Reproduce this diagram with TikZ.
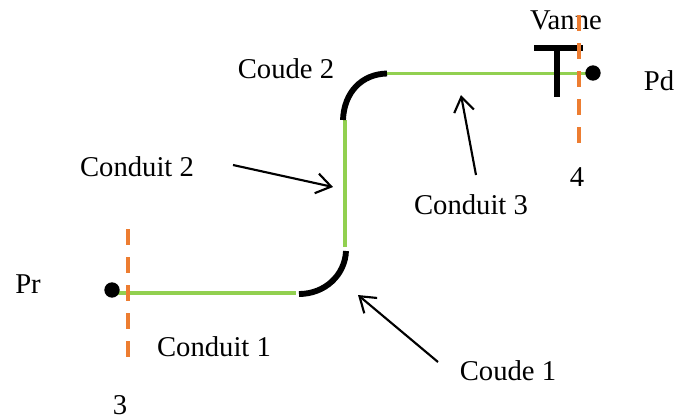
\documentclass[tikz,border=0pt]{standalone}
\usepackage{fontspec}
\setmainfont{Liberation Serif}
\usetikzlibrary{arrows.meta}
\tikzset{
  lab/.style={font=\fontsize{21.5}{24}\selectfont,inner sep=0pt},
  conduit/.style={draw={rgb,255:red,146;green,208;blue,80},line width=2.9pt},
  coude/.style={draw=black,line width=4.4pt},
  coupe/.style={draw={rgb,255:red,237;green,125;blue,49},line width=3pt,dash pattern=on 12pt off 9pt},
  fleche/.style={draw=black,line width=1.6pt,-{Straight Barb[length=11pt,width=15pt,line width=1.6pt]}},
  point/.style={circle,fill=black,inner sep=0pt,minimum size=11.5pt}
}
\begin{document}
\begin{tikzpicture}[x=0.75pt,y=-0.75pt]
\useasboundingbox (0,0) rectangle (675,419);
\begin{scope}
\coordinate (c1a) at (118,293);
\coordinate (c1b) at (296,293);
\coordinate (c2a) at (345,247);
\coordinate (c2b) at (345,120);
\coordinate (c3a) at (387,73.5);
\coordinate (c3b) at (588,73.5);
\path[conduit] (c1a) -- (c1b);
\path[conduit] (c2a) -- (c2b);
\path[conduit] (c3a) -- (c3b);
\end{scope}
\node[point] (pr) at (112,290) {};
\node[point] (pd) at (593,73) {};
% coudes
\coordinate (k1a) at (299,294);
\coordinate (k1b) at (346,251);
\coordinate (k2a) at (343,120);
\coordinate (k2b) at (387,73.5);
\path[coude] (k1a) .. controls (325,294) and (345,275) .. (k1b);
\path[coude] (k2a) .. controls (344,92) and (362,74) .. (k2b);
% vanne
\coordinate (t1) at (534,48);
\coordinate (t2) at (583,48);
\coordinate (t3) at (557,48);
\coordinate (t4) at (557,97);
\path[coude] (t1) -- (t2);
\path[coude] (t3) -- (t4);
% textes
\node[lab] (vanne) at (566,20) {Vanne};
\node[lab] (pdl) at (659,81) {Pd};
\node[lab] (prl) at (28,284) {Pr};
\node[lab] (cd2) at (286,69) {Coude 2};
\node[lab] (cd1) at (508,371) {Coude 1};
\node[lab] (cn2) at (137,167) {Conduit 2};
\node[lab] (cn3) at (471,205) {Conduit 3};
\node[lab] (cn1) at (214,347) {Conduit 1};
\node[lab] (n4) at (577,177) {4};
\node[lab] (n3) at (120,405) {3};
% coupes
\coordinate (s3a) at (128,229);
\coordinate (s3b) at (128,357);
\coordinate (s4a) at (579,15);
\coordinate (s4b) at (579,143);
\path[coupe] (s3a) -- (s3b);
\path[coupe] (s4a) -- (s4b);
% fleches
\coordinate (f2a) at (233,165);
\coordinate (f2b) at (333,187);
\coordinate (f3a) at (476,175);
\coordinate (f3b) at (461,95);
\coordinate (f1a) at (438,362);
\coordinate (f1b) at (358,295);
\path[fleche] (f2a) -- (f2b);
\path[fleche] (f3a) -- (f3b);
\path[fleche] (f1a) -- (f1b);
\end{tikzpicture}
\end{document}
